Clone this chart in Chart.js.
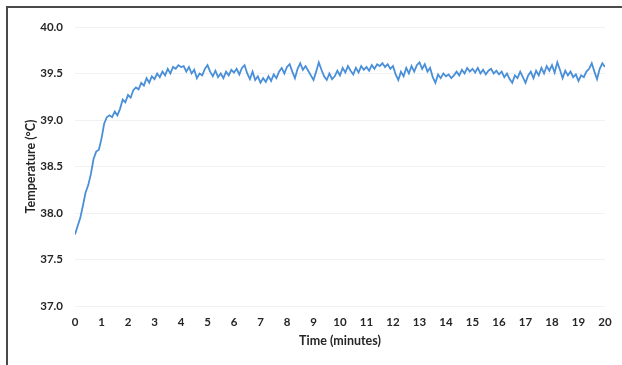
<!DOCTYPE html>
<html>
<head>
<meta charset="utf-8">
<script src="https://cdn.jsdelivr.net/npm/chart.js@4.4.1/dist/chart.umd.min.js"></script>
<style>
  html, body { margin: 0; padding: 0; background: #fff; overflow: hidden; }
  #wrap { position: relative; width: 622px; height: 365px; }
  #frame { position: absolute; left: 6px; top: 6px; width: 640px; height: 400px;
           border-top: 2px solid #4a4a4a; border-left: 2px solid #4a4a4a; }
  canvas { position: absolute; left: 0; top: 0; }
</style>
</head>
<body>
<div id="wrap">
  <div id="frame"></div>
  <canvas id="tempChart" width="622" height="365"></canvas>
</div>
<script>
// temperature logged every 0.1 min, 0 → 20 min
const SAMPLE_STEP = 0.1;
const temps = [
  37.77, 37.86, 37.95, 38.08, 38.22, 38.30, 38.42, 38.58, 38.66, 38.68,
  38.80, 38.96, 39.03, 39.05, 39.03, 39.09, 39.05, 39.12, 39.22, 39.19,
  39.27, 39.24, 39.32, 39.35, 39.33, 39.40, 39.37, 39.45, 39.40, 39.47,
  39.44, 39.50, 39.46, 39.52, 39.48, 39.55, 39.50, 39.57, 39.55, 39.59,
  39.57, 39.58, 39.52, 39.57, 39.50, 39.54, 39.45, 39.50, 39.48, 39.55,
  39.59, 39.52, 39.47, 39.53, 39.46, 39.50, 39.45, 39.52, 39.48, 39.54,
  39.51, 39.55, 39.49, 39.56, 39.59, 39.50, 39.44, 39.52, 39.43, 39.47,
  39.40, 39.45, 39.41, 39.47, 39.42, 39.49, 39.45, 39.52, 39.56, 39.50,
  39.57, 39.60, 39.52, 39.45, 39.55, 39.61, 39.54, 39.58, 39.53, 39.48,
  39.43, 39.52, 39.62, 39.54, 39.47, 39.43, 39.50, 39.44, 39.47, 39.53,
  39.48, 39.56, 39.51, 39.58, 39.53, 39.49, 39.56, 39.51, 39.58, 39.54,
  39.57, 39.53, 39.59, 39.55, 39.60, 39.58, 39.61, 39.57, 39.60, 39.55,
  39.58, 39.49, 39.43, 39.52, 39.47, 39.56, 39.50, 39.58, 39.52, 39.59,
  39.62, 39.55, 39.60, 39.52, 39.56, 39.46, 39.40, 39.49, 39.45, 39.50,
  39.47, 39.49, 39.45, 39.48, 39.52, 39.48, 39.54, 39.50, 39.56, 39.52,
  39.55, 39.51, 39.56, 39.50, 39.54, 39.49, 39.53, 39.55, 39.50, 39.53,
  39.49, 39.52, 39.46, 39.50, 39.44, 39.40, 39.48, 39.45, 39.52, 39.46,
  39.40, 39.48, 39.52, 39.45, 39.53, 39.48, 39.56, 39.50, 39.58, 39.53,
  39.59, 39.51, 39.62, 39.54, 39.45, 39.53, 39.48, 39.52, 39.46, 39.49,
  39.42, 39.48, 39.46, 39.52, 39.55, 39.61, 39.52, 39.44, 39.55, 39.61,
  39.57
];
const X_MIN = 0, X_MAX = 20, X_STEP = 1;
const Y_MIN = 37, Y_MAX = 40, Y_STEP = 0.5;

const LINE_COLOR = "#4a8fd9";
const TEXT_COLOR = "#262626";
const GRID_COLOR = "#f1f1f1";

const points = temps.map((t, i) => ({ x: i * SAMPLE_STEP, y: t }));

new Chart(document.getElementById("tempChart"), {
  type: "line",
  data: {
    datasets: [{
      data: points,
      borderColor: LINE_COLOR,
      borderWidth: 1.8,
      pointRadius: 0,
      tension: 0,
      fill: false,
    }],
  },
  options: {
    responsive: false,
    animation: false,
    layout: { padding: { top: 27, right: 17, bottom: 13, left: 19 } },
    plugins: { legend: { display: false }, tooltip: { enabled: false } },
    scales: {
      x: {
        type: "linear",
        min: X_MIN, max: X_MAX,
        afterFit: (s) => { s.height = 46; },
        ticks: { stepSize: X_STEP, color: TEXT_COLOR, padding: 9,
                 font: { family: "Lato", size: 11.5, weight: "bold" } },
        grid: { display: false, drawTicks: false },
        border: { display: false },
        title: { display: true, text: "Time (minutes)", color: TEXT_COLOR,
                 font: { family: "Lato", size: 12.5, weight: "bold" } },
      },
      y: {
        min: Y_MIN, max: Y_MAX,
        afterFit: (s) => { s.width = 56; },
        ticks: { stepSize: Y_STEP, color: TEXT_COLOR, padding: 12,
                 callback: (v) => v.toFixed(1),
                 font: { family: "Lato", size: 11.5, weight: "bold" } },
        grid: { color: GRID_COLOR, drawTicks: false },
        border: { display: false },
        title: { display: true, text: "Temperature (°C)", color: TEXT_COLOR,
                 font: { family: "Lato", size: 12.5, weight: "bold" } },
      },
    },
  },
});
</script>
</body>
</html>
